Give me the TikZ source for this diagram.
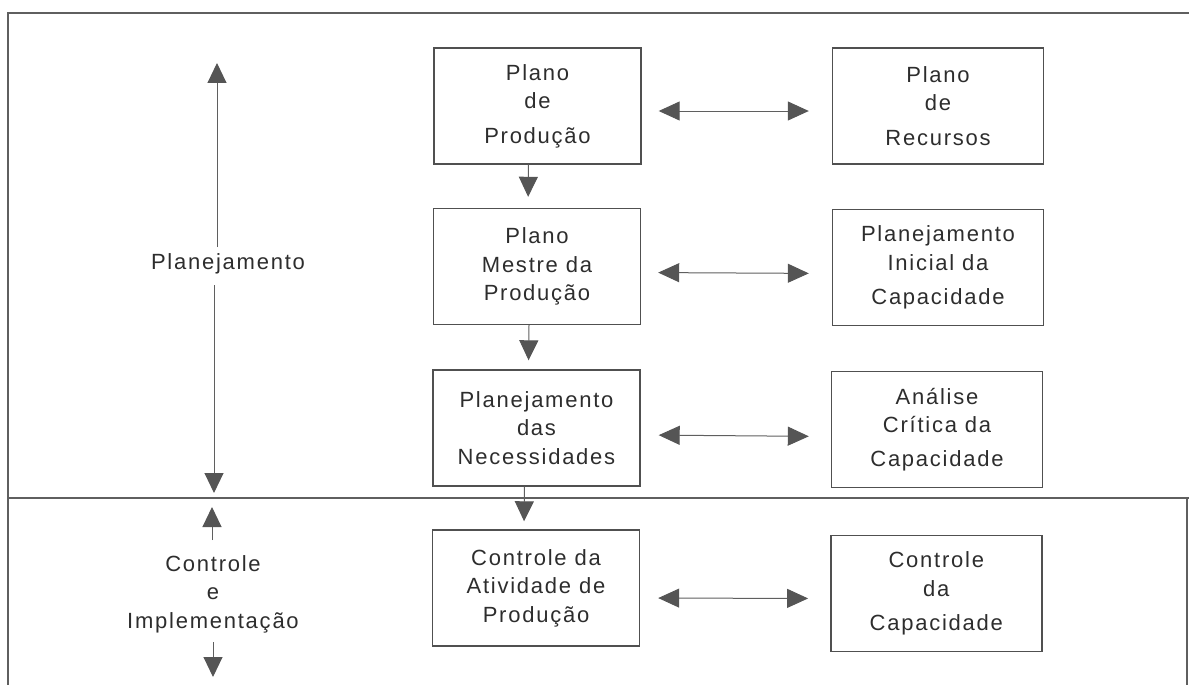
\documentclass[tikz,border=0pt]{standalone}
\usepackage{fontspec}
\setmainfont{Liberation Sans}[LetterSpace=8]
\usetikzlibrary{arrows.meta}
\definecolor{framegray}{RGB}{95,95,95}
\definecolor{boxgray}{RGB}{80,80,80}
\definecolor{headgray}{RGB}{85,85,85}
\definecolor{txtgray}{RGB}{45,45,45}
\begin{document}
\begin{tikzpicture}[x=1pt,y=-1pt,
  font=\fontsize{22}{28.5}\selectfont,
  every node/.style={text=txtgray},
  lbox/.style={draw=boxgray,line width=1.4pt,minimum width=207pt,minimum height=116pt,align=center,inner sep=0pt},
  rbox/.style={lbox,minimum width=211pt},
  framel/.style={draw=framegray,line width=1.3pt},
  tri/.tip={Triangle[length=20pt,width=19pt]},
  harrow/.style={draw=framegray,line width=1pt,{Triangle[length=21pt,width=19pt,color=headgray]}-{Triangle[length=21pt,width=19pt,color=headgray]}},
  varrow/.style={draw=framegray,line width=1pt,-{Triangle[length=20pt,width=19pt,color=headgray]}},
  labelnode/.style={align=center,inner sep=0pt}
]
\useasboundingbox (0,0) rectangle (1189,685);
% frame
\coordinate (ftl) at (8,13);
\coordinate (ftr) at (1189,13);
\coordinate (fbl) at (8,685);
\coordinate (fdl) at (8,498);
\coordinate (fdr) at (1189,498);
\coordinate (frd) at (1187,498);
\coordinate (frb) at (1187,685);
\draw[framel] (ftr) -- (ftl) -- (fbl);
\draw[framel] (fdl) -- (fdr);
\draw[framel] (frd) -- (frb);

% left column boxes
\node[lbox] (L1) at (537.5,106) {Plano\\de\\[6pt]Produção};
\node[lbox] (L2) at (537,266.5) {Plano\\Mestre da\\Produção};
\node[lbox] (L3) at (536.5,428) {Planejamento\\das\\Necessidades};
\node[lbox] (L4) at (536,588) {Controle da\\Atividade de\\Produção};
% right column boxes
\node[rbox] (R1) at (938,106) {Plano\\de\\[6pt]Recursos};
\node[rbox] (R2) at (938,267.5) {Planejamento\\Inicial da\\[6pt]Capacidade};
\node[rbox] (R3) at (937,429.5) {Análise\\Crítica da\\[5pt]Capacidade};
\node[rbox] (R4) at (936.3,593.5) {Controle\\da\\[6pt]Capacidade};

% horizontal double arrows
\draw[harrow,shorten <=17pt,shorten >=23pt] ([yshift=-5pt]L1.east) -- ([yshift=-5pt]R1.west);
\draw[harrow,shorten <=17pt,shorten >=23pt] ([yshift=-6pt]L2.east) -- ([yshift=-6pt]R2.west);
\draw[harrow,shorten <=18pt,shorten >=22pt] ([yshift=-7pt]L3.east) -- ([yshift=-7pt]R3.west);
\draw[harrow,shorten <=18pt,shorten >=22pt] ([yshift=-10pt]L4.east) -- ([yshift=-5pt]R4.west);

% vertical flow arrows
\draw[varrow,shorten >=11pt] ([xshift=-9pt]L1.south) -- ([xshift=-9pt]L2.north);
\draw[varrow,shorten >=9pt] ([xshift=-8pt]L2.south) -- ([xshift=-8pt]L3.north);
\draw[varrow,shorten >=8pt] ([xshift=-12pt]L3.south) -- ([xshift=-12pt]L4.north);

% left labels
\node[labelnode] (plan) at (228,264) {Planejamento};
\coordinate (ptop) at (217,63);
\coordinate (pa) at (217,247);
\coordinate (pb) at (214,285);
\coordinate (pbot) at (214,493);
\draw[varrow] (pa) -- (ptop);
\draw[varrow] (pb) -- (pbot);

\node[labelnode] (ctrl) at (213,594) {Controle\\e\\Implementação};
\coordinate (ctop) at (212,507);
\coordinate (ca) at (212,540);
\coordinate (cb) at (213,642);
\coordinate (cbot) at (213,677);
\draw[varrow] (ca) -- (ctop);
\draw[varrow] (cb) -- (cbot);
\end{tikzpicture}
\end{document}
